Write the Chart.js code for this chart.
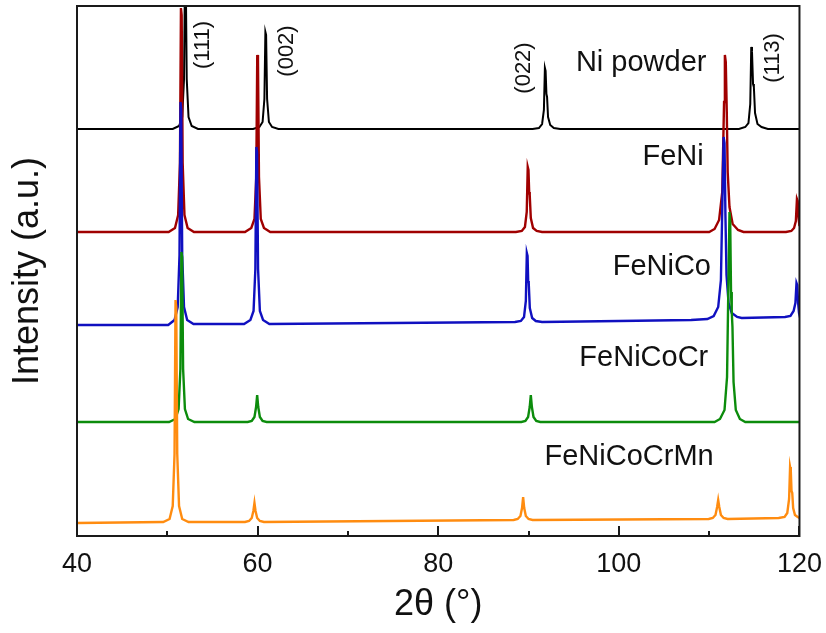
<!DOCTYPE html>
<html>
<head>
<meta charset="utf-8">
<script src="https://cdn.jsdelivr.net/npm/chart.js@4.4.1/dist/chart.umd.min.js"></script>
<style>
  html, body { margin: 0; padding: 0; background: #fff; }
</style>
</head>
<body>
<canvas id="xrd" width="826" height="633"></canvas>
<script>
// 2θ axis ticks
const xTicksMajor = [40, 60, 80, 100, 120];
const xTicksMinor = [50, 70, 90, 110];

const sampleNames = ['Ni powder', 'FeNi', 'FeNiCo', 'FeNiCoCr', 'FeNiCoCrMn'];
const lineColors = ['#000000', '#a00000', '#1010c0', '#0c8c0c', '#ff8c10'];
const lineWidths = [2, 2.4, 2.4, 2.4, 2.4];
// vertical shift applied to each pattern so they stack
const offsets = [407, 304, 211, 114, 13];

// [2θ, intensity] measured above each pattern's own baseline
const niPowder = [
  [40, 0], [50.6, 0],
  [51.3, 3], [51.65, 12], [51.85, 50], [51.96, 160], [52.04, 155], [52.15, 50], [52.35, 12], [52.7, 3],
  [53.4, 0], [59.5, 0],
  [60.2, 2], [60.55, 7], [60.75, 30], [60.86, 97], [60.94, 94], [61.05, 30], [61.25, 7], [61.6, 2],
  [62.3, 0], [90.45, 0],
  [91.15, 1], [91.5, 5], [91.7, 19], [91.81, 61], [91.89, 58], [91.98, 35], [92.05, 32], [92.16, 12], [92.4, 4], [92.8, 1],
  [93.5, 0], [113.3, 0],
  [114.0, 2], [114.35, 6], [114.55, 25], [114.66, 82], [114.74, 78], [114.86, 45], [114.95, 42], [115.08, 16], [115.35, 5], [115.8, 2],
  [116.5, 0], [120, 0]
];

const feNi = [
  [40, 0], [50.15, 0],
  [50.85, 4], [51.2, 17], [51.4, 69], [51.51, 224], [51.59, 217], [51.7, 69], [51.9, 17], [52.25, 4],
  [52.95, 0], [58.6, 0],
  [59.3, 4], [59.65, 13], [59.85, 55], [59.96, 177], [60.04, 172], [60.15, 55], [60.35, 13], [60.7, 4],
  [61.4, 0], [88.6, 0],
  [89.25, 1], [89.6, 5], [89.8, 20], [89.91, 65], [89.99, 62], [90.07, 40], [90.13, 37], [90.25, 14], [90.5, 4], [90.9, 1],
  [91.5, 0], [110.0, 0],
  [110.6, 3], [111.1, 12], [111.45, 40], [111.65, 130], [111.74, 177], [111.84, 170], [111.95, 120], [112.05, 60], [112.25, 25], [112.6, 8], [113.2, 2],
  [113.8, 0], [118.5, 0],
  [119.1, 1], [119.4, 4], [119.6, 11], [119.72, 33], [119.8, 31], [119.9, 14], [120, 6]
];

const feNiCo = [
  [40, 0], [50.1, 0],
  [50.8, 5], [51.15, 18], [51.35, 70], [51.46, 223], [51.54, 216], [51.65, 70], [51.85, 18], [52.2, 5],
  [52.9, 1], [58.5, 1],
  [59.2, 5], [59.55, 14], [59.75, 56], [59.86, 178], [59.94, 173], [60.05, 56], [60.25, 14], [60.6, 5],
  [61.3, 1], [75, 2], [88.5, 3],
  [89.15, 4], [89.5, 8], [89.7, 24], [89.81, 72], [89.89, 69], [89.96, 44], [90.02, 42], [90.14, 17], [90.4, 7], [90.8, 4],
  [91.5, 3], [100, 4], [108, 5], [109.8, 6],
  [110.5, 9], [111.0, 18], [111.3, 45], [111.5, 140], [111.6, 188], [111.7, 182], [111.8, 110], [111.92, 50], [112.15, 22], [112.5, 12], [113.1, 8],
  [113.6, 7], [118.4, 8],
  [119.0, 9], [119.35, 14], [119.55, 22], [119.67, 42], [119.75, 40], [119.85, 22], [119.95, 12], [120, 10]
];

const feNiCoCr = [
  [40, 0], [50.2, 0],
  [50.9, 3], [51.25, 13], [51.45, 53], [51.56, 170], [51.64, 165], [51.75, 53], [51.95, 13], [52.3, 3],
  [53.0, 0], [58.9, 0],
  [59.35, 1], [59.65, 5], [59.83, 15], [59.95, 27], [60.07, 15], [60.25, 5], [60.55, 1],
  [61.0, 0], [89.2, 0],
  [89.65, 1], [89.95, 5], [90.13, 15], [90.25, 27], [90.37, 15], [90.55, 5], [90.85, 1],
  [91.3, 0], [110.6, 0],
  [111.2, 3], [111.7, 12], [111.98, 45], [112.15, 150], [112.25, 210], [112.33, 200], [112.42, 130], [112.5, 110], [112.58, 95], [112.7, 40], [112.95, 12], [113.4, 3],
  [114.0, 0], [120, 0]
];

const feNiCoCrMn = [
  [40, 0], [49.55, 1],
  [50.25, 4], [50.6, 17], [50.8, 69], [50.91, 223], [50.99, 216], [51.1, 69], [51.3, 17], [51.65, 4],
  [52.35, 1], [58.6, 1],
  [59.05, 2], [59.35, 5], [59.53, 12], [59.65, 20], [59.77, 12], [59.95, 5], [60.25, 2],
  [60.7, 1], [88.35, 3],
  [88.8, 4], [89.1, 7], [89.28, 15], [89.4, 26], [89.52, 15], [89.7, 7], [90.0, 4],
  [90.45, 3], [109.95, 4],
  [110.4, 5], [110.7, 8], [110.88, 16], [111.0, 23], [111.12, 16], [111.3, 8], [111.6, 5],
  [112.05, 4], [117.7, 5],
  [118.35, 6], [118.65, 10], [118.85, 24], [118.96, 56], [119.04, 52], [119.12, 32], [119.2, 30], [119.3, 15], [119.5, 8], [119.8, 6], [120, 5]
];

const patterns = [niPowder, feNi, feNiCo, feNiCoCr, feNiCoCrMn];

// where the sample names and reflection indices sit, in axis units
const nameAnchors = [[109.7, 473], [109.4, 379], [110.2, 269], [109.9, 178], [110.5, 79]];
const hklLabels = ['(111)', '(002)', '(022)', '(113)'];
const hklAnchors = [[54.0, 491], [63.2, 485], [89.5, 468], [117.1, 478]];

const FONT = "'Liberation Sans', Arial, sans-serif";

const framePlugin = {
  id: 'frame',
  afterDatasetsDraw(chart) {
    const { ctx, chartArea: a, scales: { x, y } } = chart;
    ctx.save();
    ctx.strokeStyle = '#1a1a1a';
    ctx.lineWidth = 2;
    ctx.strokeRect(a.left, a.top, a.right - a.left, a.bottom - a.top);

    // tick marks point into the plot
    ctx.beginPath();
    xTicksMajor.forEach(v => {
      const px = Math.round(x.getPixelForValue(v));
      ctx.moveTo(px, a.bottom); ctx.lineTo(px, a.bottom - 10);
    });
    xTicksMinor.forEach(v => {
      const px = Math.round(x.getPixelForValue(v));
      ctx.moveTo(px, a.bottom); ctx.lineTo(px, a.bottom - 5);
    });
    ctx.stroke();

    ctx.fillStyle = '#111';
    ctx.font = '29px ' + FONT;
    ctx.textAlign = 'right';
    ctx.textBaseline = 'middle';
    sampleNames.forEach((name, i) => {
      const [vx, vy] = nameAnchors[i];
      ctx.fillText(name, x.getPixelForValue(vx), y.getPixelForValue(vy));
    });

    ctx.font = '22px ' + FONT;
    ctx.textAlign = 'center';
    hklLabels.forEach((t, i) => {
      const [vx, vy] = hklAnchors[i];
      ctx.save();
      ctx.translate(x.getPixelForValue(vx), y.getPixelForValue(vy));
      ctx.rotate(-Math.PI / 2);
      ctx.fillText(t, 0, 0);
      ctx.restore();
    });
    ctx.restore();
  }
};

new Chart(document.getElementById('xrd'), {
  type: 'line',
  data: {
    datasets: patterns.map((pts, i) => ({
      label: sampleNames[i],
      data: pts.map(([t, v]) => ({ x: t, y: v + offsets[i] })),
      borderColor: lineColors[i],
      borderWidth: lineWidths[i],
      pointRadius: 0,
      tension: 0,
      clip: 0,
      order: patterns.length - 1 - i
    }))
  },
  options: {
    responsive: false,
    devicePixelRatio: 1,
    animation: false,
    layout: { padding: { top: 6, right: 17, bottom: 0, left: 0 } },
    plugins: { legend: { display: false }, tooltip: { enabled: false } },
    scales: {
      x: {
        type: 'linear',
        min: 40,
        max: 120,
        grid: { display: false },
        border: { display: false },
        ticks: { stepSize: 20, padding: 4, color: '#111', font: { family: FONT, size: 27 } },
        title: {
          display: true,
          text: '2θ (°)',
          color: '#111',
          font: { family: FONT, size: 36 },
          padding: { top: 0, bottom: 6 }
        },
        afterFit: s => { s.height = 97; }
      },
      y: {
        min: 0,
        max: 530,
        grid: { display: false },
        border: { display: false },
        ticks: { display: false },
        title: {
          display: true,
          text: 'Intensity (a.u.)',
          color: '#111',
          font: { family: FONT, size: 36 },
          padding: { top: 6, bottom: 0 }
        },
        afterFit: s => { s.width = 77; }
      }
    }
  },
  plugins: [framePlugin]
});
</script>
</body>
</html>
